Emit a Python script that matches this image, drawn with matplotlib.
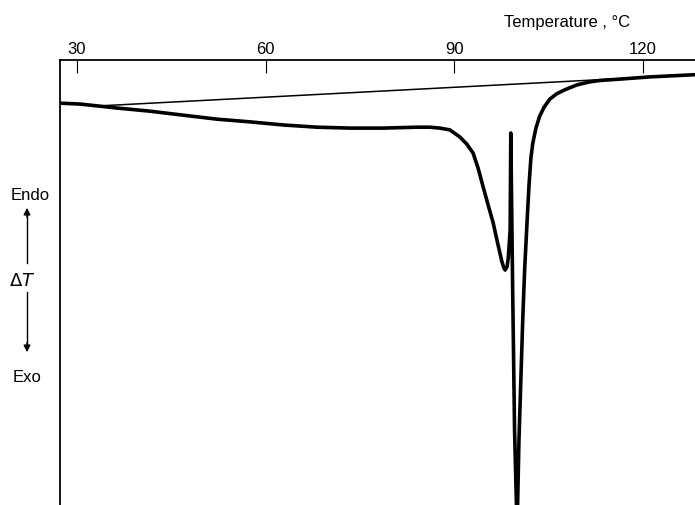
import matplotlib.pyplot as plt

plt.rcParams['font.family'] = ['Liberation Sans', 'DejaVu Sans']

# DTA trace (temperature in degC, delta T in arbitrary units, 0 = top of frame)
temp = [27.3, 30.5, 36.4, 41.6, 46.9, 52.3, 57.5, 62.8, 68.2, 73.4, 78.7, 81.4,
        84.1, 86.1, 87.7, 89.3, 90.9, 92.0, 93.0, 93.8, 94.6, 95.4, 96.2, 96.9,
        97.6, 97.9, 98.1, 98.4, 98.6, 98.9, 99.0, 99.3, 99.6, 100.0, 100.3, 100.6,
        100.9, 101.2, 101.6, 101.9, 102.2, 102.5, 103.0, 103.6, 104.3, 105.2, 106.3,
        107.6, 109.5, 111.6, 113.2, 116.3, 121.1, 128.3]
dT = [-9.7, -9.9, -10.8, -11.5, -12.4, -13.3, -13.9, -14.6, -15.1, -15.3, -15.3, -15.2,
      -15.1, -15.1, -15.3, -15.7, -17.3, -18.9, -20.9, -24.3, -28.5, -32.6, -36.6, -41.1,
      -45.4, -46.7, -47.2, -46.5, -44.5, -38.2, -16.4, -51.7, -83.2, -105.6, -85.4, -71.9,
      -58.4, -47.2, -36.0, -28.1, -22.0, -18.7, -15.3, -12.6, -10.6, -8.8, -7.6,
      -6.7, -5.6, -4.9, -4.6, -4.3, -3.8, -3.3]

# straight baseline
base_temp = [33.7, 128.3]
base_dT = [-10.3, -3.3]

ticks = [30, 60, 90, 120]

fig = plt.figure(figsize=(6.95, 5.05), dpi=100)
ax = fig.add_axes([60 / 695, 0, 635 / 695, 445 / 505])

ax.plot(temp, dT, color='black', lw=2.6, solid_joinstyle='round')
ax.plot(base_temp, base_dT, color='black', lw=1.1)

ax.set_xlim(27.3, 128.3)
ax.set_ylim(-100, 0)

ax.spines['right'].set_visible(False)
ax.spines['bottom'].set_visible(False)
ax.spines['top'].set_linewidth(1.3)
ax.spines['left'].set_linewidth(1.3)

ax.xaxis.tick_top()
ax.set_xticks(ticks)
ax.tick_params(axis='x', direction='in', length=9, width=0.8, labelsize=12, pad=2)
ax.set_yticks([])

fig.text(630 / 695, 1 - 22 / 505, 'Temperature , °C', ha='right', va='center', fontsize=12)

# Endo / Exo indicator
fig.text(30 / 695, 1 - 195 / 505, 'Endo', ha='center', va='center', fontsize=12)
fig.text(22 / 695, 1 - 281 / 505, r'$\Delta T$', ha='center', va='center', fontsize=13)
fig.text(27 / 695, 1 - 377 / 505, 'Exo', ha='center', va='center', fontsize=12)
fig.add_artist(plt.Line2D([27 / 695, 27 / 695], [1 - 263 / 505, 1 - 215 / 505], color='black', lw=1))
fig.add_artist(plt.Line2D([27 / 695, 27 / 695], [1 - 292 / 505, 1 - 345 / 505], color='black', lw=1))
ax.annotate('', xy=(27 / 695, 1 - 205 / 505), xytext=(27 / 695, 1 - 220 / 505),
            xycoords='figure fraction', arrowprops=dict(arrowstyle='-|>', color='black', lw=1, mutation_scale=10))
ax.annotate('', xy=(27 / 695, 1 - 355 / 505), xytext=(27 / 695, 1 - 340 / 505),
            xycoords='figure fraction', arrowprops=dict(arrowstyle='-|>', color='black', lw=1, mutation_scale=10))

fig.savefig('out.png', dpi=100)
